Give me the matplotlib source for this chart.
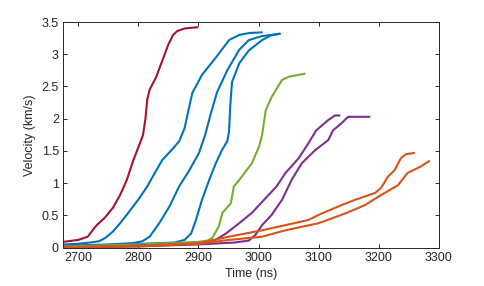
import matplotlib
matplotlib.use("Agg")
import matplotlib.pyplot as plt
import numpy as np

plt.rcParams['font.family'] = ['Liberation Sans', 'DejaVu Sans']

# traced curves: time (ns), velocity (km/s)
red_t = [2675, 2700, 2716, 2725, 2731, 2745, 2758, 2770, 2781, 2792, 2802, 2808, 2812, 2815, 2819, 2830, 2840, 2850, 2858, 2865, 2877, 2900]
red_v = [0.09, 0.12, 0.17, 0.28, 0.35, 0.47, 0.62, 0.82, 1.05, 1.36, 1.60, 1.75, 2.00, 2.30, 2.45, 2.65, 2.90, 3.15, 3.30, 3.36, 3.40, 3.42]

blue1_t = [2675, 2700, 2720, 2735, 2745, 2758, 2770, 2781, 2802, 2815, 2824, 2840, 2857, 2868, 2877, 2884, 2890, 2906, 2930, 2951, 2968, 2985, 3007]
blue1_v = [0.05, 0.06, 0.08, 0.10, 0.15, 0.25, 0.38, 0.51, 0.77, 0.95, 1.10, 1.36, 1.53, 1.65, 1.85, 2.15, 2.40, 2.68, 2.96, 3.22, 3.30, 3.33, 3.34]

blue2_t = [2675, 2750, 2790, 2807, 2819, 2835, 2852, 2868, 2885, 2901, 2911, 2921, 2931, 2948, 2968, 2984, 3005, 3036]
blue2_v = [0.03, 0.05, 0.07, 0.10, 0.17, 0.38, 0.64, 0.95, 1.20, 1.47, 1.74, 2.09, 2.41, 2.75, 3.07, 3.22, 3.28, 3.32]

blue3_t = [2675, 2780, 2860, 2877, 2888, 2896, 2906, 2918, 2929, 2939, 2948, 2951, 2953, 2956, 2968, 2984, 3006, 3020, 3037]
blue3_v = [0.02, 0.05, 0.08, 0.12, 0.22, 0.43, 0.74, 1.05, 1.31, 1.51, 1.65, 1.80, 2.20, 2.57, 2.86, 3.06, 3.22, 3.29, 3.32]

green_t = [2675, 2800, 2900, 2915, 2923, 2934, 2940, 2954, 2959, 2968, 2989, 3001, 3006, 3012, 3022, 3039, 3050, 3078]
green_v = [0.02, 0.05, 0.09, 0.11, 0.15, 0.33, 0.54, 0.69, 0.95, 1.05, 1.31, 1.57, 1.75, 2.13, 2.34, 2.60, 2.65, 2.70]

purple1_t = [2675, 2800, 2900, 2923, 2946, 2968, 2989, 3012, 3030, 3045, 3067, 3083, 3096, 3116, 3127, 3136]
purple1_v = [0.00, 0.03, 0.06, 0.09, 0.22, 0.38, 0.54, 0.77, 0.95, 1.16, 1.39, 1.62, 1.82, 1.98, 2.05, 2.05]

purple2_t = [2675, 2800, 2900, 2960, 2984, 2995, 3006, 3022, 3039, 3055, 3072, 3094, 3116, 3124, 3138, 3149, 3166, 3186]
purple2_v = [0.00, 0.02, 0.05, 0.08, 0.11, 0.20, 0.35, 0.51, 0.74, 1.05, 1.31, 1.51, 1.67, 1.82, 1.93, 2.03, 2.03, 2.03]

orange1_t = [2675, 2800, 2900, 2951, 3006, 3045, 3083, 3105, 3138, 3160, 3194, 3204, 3215, 3226, 3237, 3245, 3260]
orange1_v = [0.01, 0.03, 0.07, 0.17, 0.27, 0.35, 0.43, 0.53, 0.66, 0.74, 0.85, 0.93, 1.10, 1.20, 1.39, 1.45, 1.47]

orange2_t = [2675, 2800, 2900, 2951, 3006, 3045, 3100, 3144, 3177, 3199, 3232, 3248, 3270, 3285]
orange2_v = [0.01, 0.02, 0.06, 0.12, 0.17, 0.27, 0.38, 0.53, 0.66, 0.79, 0.97, 1.16, 1.26, 1.35]

curves = [
    (red_t, red_v, '#A2142F'),
    (blue1_t, blue1_v, '#0072BD'),
    (blue2_t, blue2_v, '#0072BD'),
    (blue3_t, blue3_v, '#0072BD'),
    (green_t, green_v, '#77AC30'),
    (purple1_t, purple1_v, '#7E2F8E'),
    (purple2_t, purple2_v, '#7E2F8E'),
    (orange1_t, orange1_v, '#D95319'),
    (orange2_t, orange2_v, '#D95319'),
]

fig = plt.figure(figsize=(4.85, 2.86), dpi=100)
ax = fig.add_axes([0.130, 0.134, 0.775, 0.789])

for t, v, c in curves:
    ax.plot(t, v, color=c, linewidth=1.5, solid_joinstyle='round', solid_capstyle='butt')

ax.set_xlim(2675, 3300)
ax.set_ylim(0, 3.5)
ax.set_xticks([2700, 2800, 2900, 3000, 3100, 3200, 3300])
ax.set_yticks(np.arange(0, 3.51, 0.5))
ax.set_yticklabels(['0', '0.5', '1', '1.5', '2', '2.5', '3', '3.5'])

ax.tick_params(direction='in', length=3, width=0.7, colors='#262626',
               labelsize=9, top=True, right=True, pad=3)
for s in ax.spines.values():
    s.set_color('#262626')
    s.set_linewidth(0.7)

ax.set_xlabel('Time (ns)', fontsize=9, color='#262626', labelpad=3)
ax.set_ylabel('Velocity (km/s)', fontsize=9, color='#262626', labelpad=4)

fig.savefig('out.png', dpi=100)
